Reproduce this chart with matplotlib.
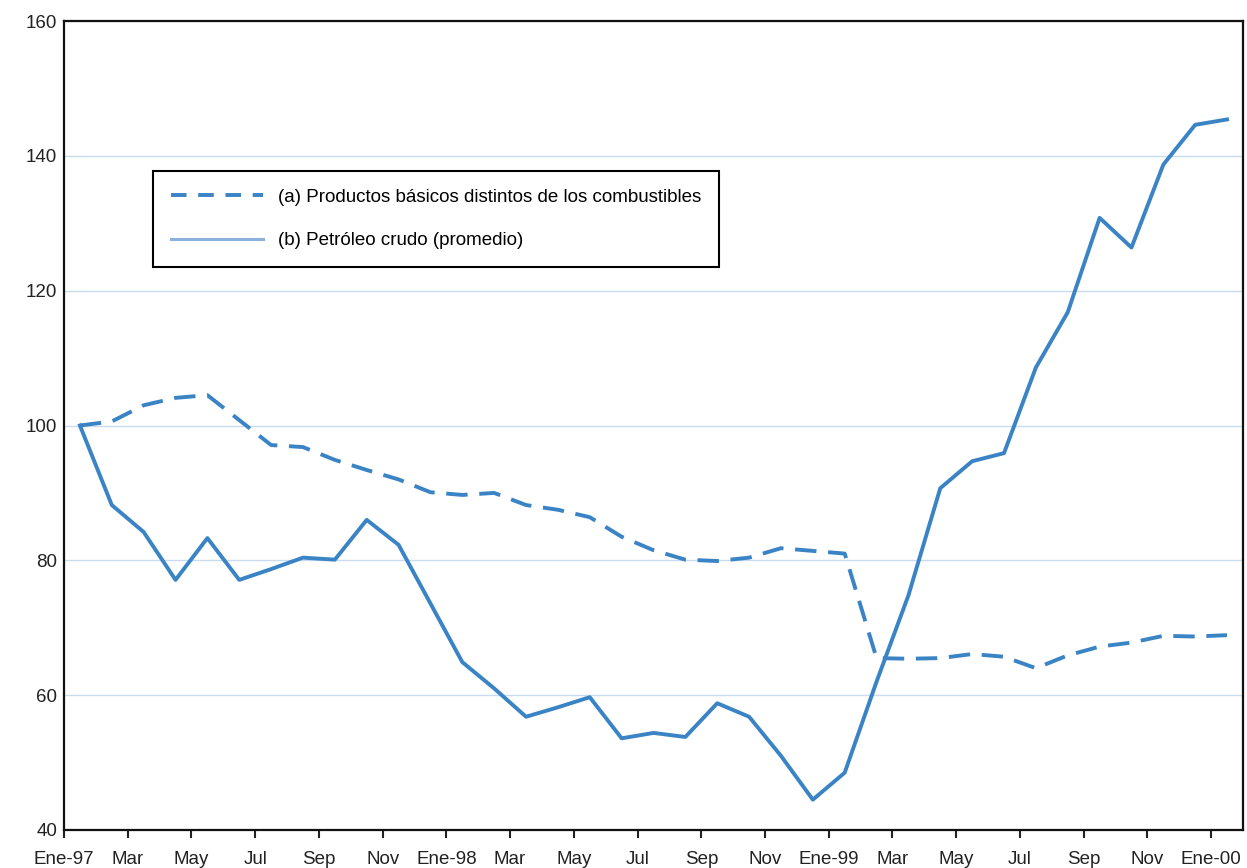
import numpy as np
import matplotlib
matplotlib.use("Agg")
import matplotlib.pyplot as plt
from matplotlib.lines import Line2D

# indices 1997=100, meses Ene-97 .. Ene-00
no_combustibles = [100.0, 100.6, 103.0, 104.1, 104.5, 100.8, 97.1, 96.8, 94.9, 93.4,
                   92.0, 90.1, 89.7, 90.0, 88.2, 87.5, 86.4, 83.5, 81.5, 80.1,
                   79.9, 80.4, 81.8, 81.4, 81.0, 65.5, 65.4, 65.5, 66.1, 65.7,
                   64.0, 65.9, 67.2, 67.8, 68.8, 68.7, 68.9]
petroleo = [100.0, 88.2, 84.2, 77.1, 83.3, 77.1, 78.7, 80.4, 80.1, 86.0,
            82.3, 73.6, 64.9, 61.0, 56.8, 58.2, 59.7, 53.6, 54.4, 53.8,
            58.8, 56.8, 51.0, 44.5, 48.5, 62.0, 74.8, 90.7, 94.7, 95.9,
            108.6, 116.8, 130.8, 126.4, 138.7, 144.6, 145.4]
tick_labels = ["Ene-97", "Mar", "May", "Jul", "Sep", "Nov",
               "Ene-98", "Mar", "May", "Jul", "Sep", "Nov",
               "Ene-99", "Mar", "May", "Jul", "Sep", "Nov", "Ene-00"]
legend_labels = ["(a) Productos básicos distintos de los combustibles",
                 "(b) Petróleo crudo (promedio)"]

plt.rcParams['font.family'] = ['Liberation Sans', 'DejaVu Sans']
plt.rcParams['font.size'] = 13.5

blue = "#3a83c5"

fig = plt.figure(figsize=(12.47, 8.68), dpi=100)
ax = fig.add_axes([64/1247, 1 - 830/868, (1243 - 64)/1247, (830 - 21)/868])

x = np.arange(len(petroleo)) + 0.5
ax.plot(x, no_combustibles, color=blue, lw=2.8, dashes=(5.5, 3))
ax.plot(x, petroleo, color=blue, lw=2.8)

ax.set_xlim(0, 37)
ax.set_ylim(40, 160)
ax.set_yticks(np.arange(40, 161, 20))
ax.set_xticks(np.arange(0, 37, 2))
ax.set_xticklabels(tick_labels)
ax.tick_params(axis='y', length=0, pad=5, colors='#222222')
ax.tick_params(axis='x', length=6, width=1.5, pad=9, colors='#222222')
ax.grid(axis='y', color='#c9dbef', lw=1)
ax.set_axisbelow(True)
for s in ax.spines.values():
    s.set_linewidth(1.6)
    s.set_color('#111111')

handles = [Line2D([], [], color=blue, lw=2.8, dashes=(4, 3)),
           Line2D([], [], color='#8ab2dc', lw=2.2)]
leg = ax.legend(handles, legend_labels, loc='upper left',
                bbox_to_anchor=(89/1179, (830 - 171)/809), borderaxespad=0,
                handlelength=4.9, handletextpad=0.8, labelspacing=1.4,
                borderpad=0.95, fancybox=False, framealpha=1, fontsize=13.5)
leg.get_frame().set_edgecolor('black')
leg.get_frame().set_linewidth(1.5)

fig.savefig("out.png", dpi=100)
